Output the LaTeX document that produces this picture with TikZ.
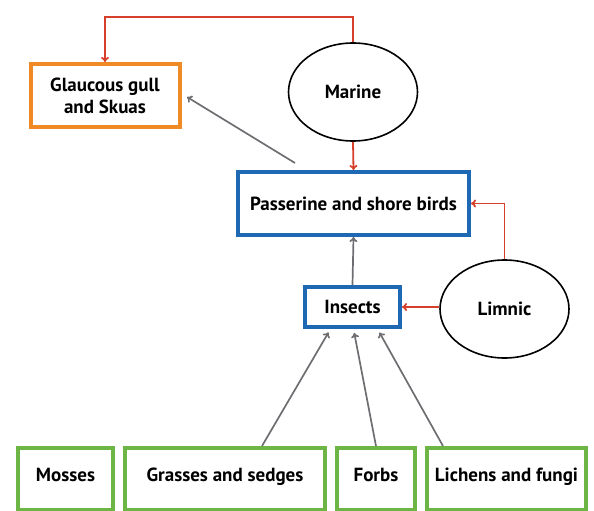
\documentclass[tikz,border=0pt]{standalone}
\usepackage{fontspec}
\setmainfont{PT Sans}
\usetikzlibrary{arrows.meta,shapes.geometric,calc}

\definecolor{gullorange}{HTML}{F08A24}
\definecolor{birdblue}{HTML}{1F68B3}
\definecolor{plantgreen}{HTML}{6DB545}
\definecolor{flowred}{HTML}{D6402B}
\definecolor{flowgray}{HTML}{6E6E72}

\tikzset{
  box/.style={draw, line width=4pt, align=center, inner sep=0pt,
    font=\fontsize{19}{22}\selectfont\bfseries},
  plant/.style={box, draw=plantgreen, minimum height=62pt,
    text height=0.72em, text depth=0.22em},
  habitat/.style={draw, ellipse, line width=1.6pt, inner sep=0pt,
    minimum width=129pt, minimum height=98pt,
    font=\fontsize{19}{22}\selectfont\bfseries},
  redflow/.style={draw=flowred, line width=1.8pt, -{To[length=5pt,width=8pt]}},
  grayflow/.style={draw=flowgray, line width=1.7pt, -{To[length=5pt,width=8pt]}}
}

\begin{document}
\begin{tikzpicture}[x=1pt,y=-1pt]

  \useasboundingbox (0,0) rectangle (594,511);

  % consumers
  \node[box, draw=gullorange, minimum width=149pt, minimum height=63pt]
    (gull) at (105,95.5) {Glaucous gull\\and Skuas};
  \node[box, draw=birdblue, minimum width=231pt, minimum height=63pt]
    (birds) at (353.5,203.5) {Passerine and shore birds};
  \node[box, draw=birdblue, minimum width=95pt, minimum height=40pt]
    (insects) at (352.5,307) {Insects};

  % habitats
  \node[habitat] (marine) at (353,92) {Marine};
  \node[habitat] (limnic) at (504.5,309) {Limnic};

  % plants
  \node[plant, minimum width=95pt] (mosses) at (65.5,479) {Mosses};
  \node[plant, minimum width=200pt] (grasses) at (225,479) {Grasses and sedges};
  \node[plant, minimum width=78pt] (forbs) at (376,479) {Forbs};
  \node[plant, minimum width=159pt] (lichens) at (506.5,479) {Lichens and fungi};

  \coordinate (birdsout) at (295,163);
  \coordinate (gullin) at (187,97);
  \coordinate (grassout) at (262,446);
  \coordinate (lichenout) at (443,446);

  \draw[redflow] (marine.north) |- (353,17) -| (gull.north);
  \draw[redflow] (marine.south) -- (birds.north);
  \draw[redflow] (limnic.north) |- (birds.east);
  \draw[redflow] (limnic.west |- insects.east) -- (insects.east);

  \draw[grayflow] (birdsout) -- (gullin);
  \draw[grayflow] (insects.north) -- (birds.south);
  \draw[grayflow, shorten >=4pt] (grassout) -- ($(insects.south)+(-22,0)$);
  \draw[grayflow, shorten >=4pt] (forbs.north) -- ($(insects.south)+(1,0)$);
  \draw[grayflow, shorten >=4pt] (lichenout) -- ($(insects.south)+(25,0)$);

\end{tikzpicture}
\end{document}
